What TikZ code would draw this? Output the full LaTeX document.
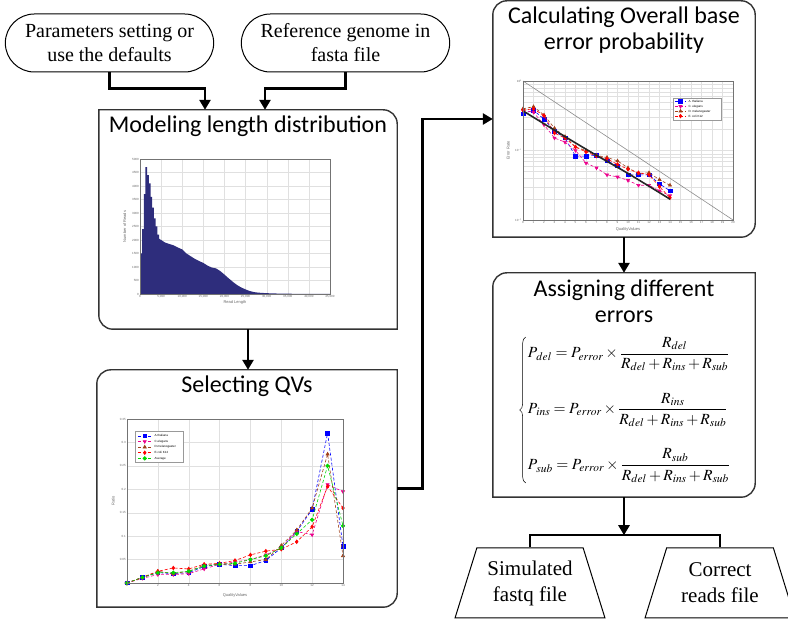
\documentclass[tikz,border=0pt]{standalone}
\usepackage{amsmath}
\usepackage{mathptmx}
\usepackage{fontspec}
\setmainfont{Liberation Serif}
\newfontfamily\calfont{Carlito}
\newfontfamily\plotfont{Liberation Sans}
\usetikzlibrary{shapes.geometric, shapes.misc, arrows.meta, positioning, calc, plotmarks, decorations.pathreplacing}
\definecolor{histblue}{HTML}{2E2D7C}
\definecolor{qvbrown}{HTML}{A0401A}

\begin{document}
\begin{tikzpicture}[x=1pt, y=1pt,
    flow/.style={line width=2.6pt, -{Triangle[length=10pt, width=11pt]}},
    link/.style={line width=2.6pt},
    pill/.style={rounded rectangle, draw, line width=1pt, minimum width=215pt, minimum height=58pt, align=center, font=\fontsize{20}{24}\selectfont},
    panel/.style={inner sep=0pt},
    outline/.style={line width=1.4pt, draw=black!80},
    title/.style={align=center, font=\calfont\fontsize{24}{26}\selectfont},
    filebox/.style={trapezium, draw, line width=1pt, trapezium stretches=true, trapezium left angle=70, trapezium right angle=70, minimum width=150pt, minimum height=70pt, align=center, font=\fontsize{21}{26}\selectfont},
    gridline/.style={black!12, line width=0.3pt},
    axisline/.style={black!55, line width=0.4pt},
    ticklab/.style={font=\plotfont\fontsize{3}{3}\selectfont, text=black!60, inner sep=1pt},
    axlab/.style={font=\plotfont\fontsize{4}{4}\selectfont, text=black!60, inner sep=0pt},
    legtext/.style={font=\plotfont\fontsize{3}{3}\selectfont, anchor=west, inner sep=0.5pt},
    legbox/.style={draw=black!40, fill=white, line width=0.3pt},
    series/.style={densely dashed, line width=0.6pt, mark size=1.8pt},
    serA/.style={series, blue, mark=square*, mark options={solid}},
    serC/.style={series, magenta, mark=triangle*, mark options={solid, rotate=180}},
    serD/.style={series, qvbrown, mark=triangle*, mark options={solid}},
    serE/.style={series, red, mark=diamond*, mark options={solid}},
    serAvg/.style={series, green!85!black, mark=*, mark options={solid}},
    idealline/.style={black!45, line width=0.6pt},
    fitline/.style={black!85, line width=1.6pt},
    casebrace/.style={decorate, decoration={brace, amplitude=6pt}, line width=0.5pt}
]
\useasboundingbox (0,0) rectangle (788,619);

% inputs
\node[pill] (param) at (109.5,576) {Parameters setting or\\use the defaults};
\node[pill] (refgen) at (345.5,576) {Reference genome in\\fasta file};

% panels
\node[panel, minimum width=298pt, minimum height=219pt] (model) at (248,399.5) {};
\node[panel, minimum width=300pt, minimum height=237pt] (select) at (247,130.5) {};
\node[panel, minimum width=262pt, minimum height=236pt] (calc) at (624,500) {};
\node[panel, minimum width=262pt, minimum height=224pt] (assign) at (624,234) {};

\draw[outline] (model.north west) -- ([xshift=-14pt]model.north east) arc[start angle=90, end angle=0, radius=14pt]
  -- (model.south east) -- ([xshift=14pt]model.south west) arc[start angle=270, end angle=180, radius=14pt] -- cycle;
\draw[outline] (select.north east) -- ([xshift=14pt]select.north west) arc[start angle=90, end angle=180, radius=14pt]
  -- (select.south west) -- ([xshift=-14pt]select.south east) arc[start angle=270, end angle=360, radius=14pt] -- cycle;
\draw[outline] (calc.south west) -- ([yshift=-14pt]calc.north west) arc[start angle=180, end angle=90, radius=14pt]
  -- ([xshift=-14pt]calc.north east) arc[start angle=90, end angle=0, radius=14pt]
  -- ([yshift=14pt]calc.south east) arc[start angle=0, end angle=-90, radius=14pt] -- cycle;
\draw[outline] (assign.north east) -- ([xshift=14pt]assign.north west) arc[start angle=90, end angle=180, radius=14pt]
  -- (assign.south west) -- ([xshift=-14pt]assign.south east) arc[start angle=270, end angle=360, radius=14pt] -- cycle;

\node[title, below=3pt of model.north] (modeltitle) {Modeling length distribution};
\node[title, below=3pt of select.north] (selecttitle) {Selecting QVs};
\node[title, below=3pt of calc.north] (calctitle) {Calculating Overall base\\error probability};
\node[title, below=4pt of assign.north] (assigntitle) {Assigning different\\errors};

% length histogram
\begin{scope}[shift={(140,325)}, x=4.222pt, y=27pt]
  \foreach \v in {5,10,...,40} \draw[gridline] (\v,0) -- (\v,5);
  \foreach \v in {0.5,1,...,4.5} \draw[gridline] (0,\v) -- (45,\v);
  \fill[histblue] (0,0) -- plot coordinates {(0,1.5)(0.5,1.5)(0.5,2.4)(0.9,2.4)(0.9,3.7)(1.3,3.7)(1.3,4.7)(1.7,4.7)(1.7,4.4)(2.1,4.4)(2.1,4.1)(2.5,4.1)(2.5,3.6)(2.9,3.6)(2.9,3.2)(3.3,3.2)(3.3,2.8)(3.7,2.8)(3.7,2.5)(4.1,2.5)(4.1,2.2)(4.5,2.2)(4.5,2.05)(5,2.0)(6,1.9)(7,1.85)(8,1.8)(9,1.72)(10,1.65)(11,1.5)(12,1.4)(13,1.3)(14,1.22)(15,1.15)(16,1.05)(17,0.98)(18,0.95)(19,0.85)(20,0.72)(21,0.58)(22,0.45)(23,0.33)(24,0.24)(25,0.17)(26,0.11)(27,0.07)(28,0.05)(30,0.03)(33,0.015)(38,0.005)(45,0)} -- cycle;
  \draw[axisline] (0,0) rectangle (45,5);
  \foreach \v/\t in {0/0,5/{5,000},10/{10,000},15/{15,000},20/{20,000},25/{25,000},30/{30,000},35/{35,000},40/{40,000},45/{45,000}}
    \node[ticklab, below] (lenx\v) at (\v,0) {\t};
  \foreach \v in {0,500,...,5000} \node[ticklab, left] (leny\v) at (0,{\v/1000}) {\v};
  \node[axlab] (lenxlab) at (22.5,-0.3) {Read Length};
  \node[axlab, rotate=90] (lenylab) at (-3.6,2.5) {Number of Reads};
\end{scope}

% quality value ratios
\begin{scope}[shift={(127,36)}, x=15.43pt, y=4.686pt]
  \foreach \v in {2,4,...,12} \draw[gridline] (\v,0) -- (\v,35);
  \foreach \v in {5,10,...,30} \draw[gridline] (0,\v) -- (14,\v);
  \draw[serA] plot coordinates {(0,0)(1,1.2)(2,2.2)(3,2.0)(4,2.2)(5,3.5)(6,4.0)(7,3.7)(8,3.7)(9,4.8)(10,7.5)(11,11)(12,15.7)(13,32)(14,7.8)};
  \draw[serC] plot coordinates {(0,0)(1,1.0)(2,1.8)(3,1.8)(4,2.0)(5,3.0)(6,4.0)(7,4.5)(8,5.0)(9,6.0)(10,7.5)(11,11)(12,10.3)(13,21)(14,19.5)};
  \draw[serD] plot coordinates {(0,0)(1,1.2)(2,2.5)(3,2.0)(4,2.5)(5,3.8)(6,4.0)(7,4.0)(8,4.5)(9,5.0)(10,8.0)(11,11.3)(12,16)(13,27.5)(14,5.8)};
  \draw[serE] plot coordinates {(0,0)(1,1.2)(2,2.5)(3,3.2)(4,3.0)(5,4.0)(6,4.2)(7,4.8)(8,6.0)(9,6.8)(10,7.2)(11,8.8)(12,12)(13,20.6)(14,16)};
  \draw[serAvg] plot coordinates {(0,0)(1,1.2)(2,2.2)(3,2.2)(4,2.5)(5,3.6)(6,4.0)(7,4.2)(8,5.0)(9,5.8)(10,7.5)(11,10.5)(12,13.5)(13,25)(14,12.2)};
  \draw[axisline] (0,0) rectangle (14,35);
  \draw[legbox] (0.52,25.8) rectangle (3.63,32.5);
  \foreach \s/\t [count=\k, evaluate=\k as \ly using 32.6-1.2*\k] in {serA/A.thaliana, serC/C.elegans, serD/D.melanogaster, serE/E.coli K12, serAvg/Average} {
    \draw[\s, mark=none] (0.7,\ly) -- (1.6,\ly);
    \draw[\s] plot coordinates {(1.15,\ly)};
    \node[legtext] (qvleg\k) at (1.75,\ly) {\t};
  }
  \foreach \v in {0,2,...,14} \node[ticklab, below] (qvx\v) at (\v,0) {\v};
  \foreach \v/\t in {0/0,5/0.05,10/0.1,15/0.15,20/0.2,25/0.25,30/0.3,35/0.35} \node[ticklab, left] (qvy\v) at (0,\v) {\t};
  \node[axlab] (qvxlab) at (7,-2.6) {QualityValues};
  \node[axlab, rotate=90] (qvylab) at (-0.9,17.5) {Ratio};
\end{scope}

% error rate per quality value
\begin{scope}[shift={(523,538)}, x=10.5pt, y=69.5pt]
  \foreach \v in {1,...,19} \draw[gridline] (\v,-2) -- (\v,0);
  \foreach \n in {-2,-1} \foreach \k in {2,...,9} \draw[gridline] (0,{\n+log10(\k)}) -- (20,{\n+log10(\k)});
  \draw[gridline] (0,-1) -- (20,-1);
  \draw[idealline] (0,0) -- (20,-2);
  \draw[serA] plot coordinates {(0,-0.47)(1,-0.42)(2,-0.55)(3,-0.72)(4,-0.82)(5,-1.08)(6,-1.08)(7,-1.07)(8,-1.15)(9,-1.22)(10,-1.35)(11,-1.35)(12,-1.35)(13,-1.48)(14,-1.58)};
  \draw[serC] plot coordinates {(0,-0.42)(1,-0.45)(2,-0.63)(3,-0.82)(4,-0.88)(5,-1.0)(6,-1.18)(7,-1.25)(8,-1.35)(9,-1.38)(10,-1.43)(11,-1.5)(12,-1.5)(13,-1.58)(14,-1.65)};
  \draw[serD] plot coordinates {(0,-0.4)(1,-0.37)(2,-0.49)(3,-0.68)(4,-0.8)(5,-0.95)(6,-1.0)(7,-1.07)(8,-1.1)(9,-1.15)(10,-1.25)(11,-1.33)(12,-1.32)(13,-1.42)(14,-1.5)};
  \draw[serE] plot coordinates {(0,-0.42)(1,-0.4)(2,-0.5)(3,-0.75)(4,-0.82)(5,-0.95)(6,-1.02)(7,-1.08)(8,-1.12)(9,-1.2)(10,-1.27)(11,-1.32)(12,-1.35)(13,-1.52)(14,-1.68)};
  \draw[fitline] plot[smooth] coordinates {(0,-0.43)(4,-0.8)(7,-1.07)(10,-1.33)(14,-1.7)};
  \draw[axisline] (0,-2) rectangle (20,0);
  \draw[legbox] (14.3,-0.245) rectangle (18.9,-0.56);
  \foreach \s/\t [count=\k, evaluate=\k as \ly using -0.225-0.07*\k] in {serA/A. thaliana, serC/C. elegans, serD/D. melanogaster, serE/E. coli K12} {
    \draw[\s, mark=none] (14.5,\ly) -- (15.5,\ly);
    \draw[\s] plot coordinates {(15,\ly)};
    \node[legtext] (erleg\k) at (15.7,\ly) {\t};
  }
  \foreach \v in {0,...,20} \node[ticklab, below] (erx\v) at (\v,-2) {\v};
  \foreach \p/\n in {0/a,-1/b,-2/c} \node[ticklab, left] (ery\n) at (0,\p) {10$^{\p}$};
  \node[axlab] (erxlab) at (10,-2.13) {QualityValues};
  \node[axlab, rotate=90] (erylab) at (-1.4,-1) {Error Rate};
\end{scope}

% error split
\node[font=\fontsize{15.5}{19}\selectfont, inner sep=0pt] (eqs) at (629,209) {$\begin{aligned}
  &P_{\kern1pt del}=P_{error}\times\frac{R_{del}}{R_{del}+R_{ins}+R_{sub}}\\[18pt]
  &P_{\kern1pt ins}=P_{error}\times\frac{R_{ins}}{R_{del}+R_{ins}+R_{sub}}\\[18pt]
  &P_{\kern1pt sub}=P_{error}\times\frac{R_{sub}}{R_{del}+R_{ins}+R_{sub}}
\end{aligned}$};
\draw[casebrace] ([xshift=-2pt]eqs.south west) -- ([xshift=-2pt]eqs.north west);

% outputs
\node[filebox] (simfile) at (530,36) {Simulated\\fastq file};
\node[filebox] (corfile) at (720,36) {Correct\\reads file};

\draw[flow] (param.south) -- ++(0,-16) -| ([xshift=-43pt]model.north);
\draw[flow] (refgen.south) -- ++(0,-16) -| ([xshift=17pt]model.north);
\draw[flow] (model.south) -- (model.south |- select.north);
\draw[flow] (select.east) -- ++(25,0) |- (calc.west);
\draw[flow] (calc.south) -- (assign.north);
\coordinate[below=38pt of assign.south] (split);
\draw[flow] (assign.south) -- (split);
\draw[link] (simfile.north) |- (split) -| (corfile.north);
\end{tikzpicture}
\end{document}
